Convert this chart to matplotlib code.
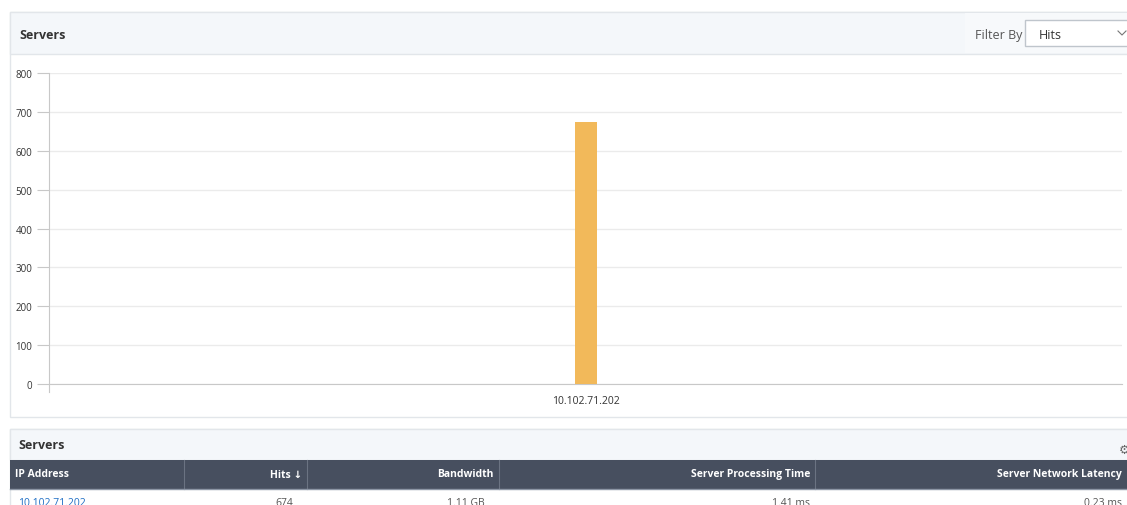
import matplotlib
matplotlib.use("Agg")
import matplotlib.pyplot as plt
from matplotlib.patches import Rectangle

plt.rcParams["font.family"] = ["Open Sans", "DejaVu Sans"]

# data
servers = ["10.102.71.202"]
hits = [674]
bandwidth = ["1.11 GB"]
processing_time = ["1.41 ms"]
network_latency = ["0.23 ms"]
y_ticks = [0, 100, 200, 300, 400, 500, 600, 700, 800]
columns = ["IP Address", "Hits \u2193", "Bandwidth", "Server Processing Time", "Server Network Latency"]

W, H = 1127, 506
fig = plt.figure(figsize=(W / 100, H / 100), dpi=100)
fig.patch.set_facecolor("white")

# pixel-space background layer for the dashboard panels
bg = fig.add_axes([0, 0, 1, 1])
bg.set_xlim(0, W)
bg.set_ylim(H, 0)
bg.axis("off")

border = "#e2e6ea"
head_bg = "#f4f7fa"

# chart card
bg.add_patch(Rectangle((10, 13), 1130, 405, facecolor="white", edgecolor=border, lw=1))
bg.add_patch(Rectangle((10, 13), 1130, 42, facecolor=head_bg, edgecolor=border, lw=1))
bg.add_patch(Rectangle((965, 14), 170, 40, facecolor="#f7f9fb", edgecolor="none"))
bg.text(19, 35, "Servers", fontsize=9, fontweight="bold", color="#333333", va="center")
bg.text(975, 35, "Filter By", fontsize=9, color="#555555", va="center")
bg.add_patch(Rectangle((1025, 21), 110, 26, facecolor="white", edgecolor="#bfc5cc", lw=1))
bg.text(1039, 35, "Hits", fontsize=9, color="#333333", va="center")
bg.plot([1118, 1122, 1126], [32, 36, 32], color="#777777", lw=0.8)

# table card
bg.add_patch(Rectangle((10, 430), 1130, 90, facecolor="white", edgecolor=border, lw=1))
bg.add_patch(Rectangle((10, 430), 1130, 31, facecolor=head_bg, edgecolor=border, lw=1))
bg.text(18, 446, "Servers", fontsize=9, fontweight="bold", color="#333333", va="center")
bg.text(1124, 450, "\u2699", fontsize=9, color="#666666", va="center", ha="center",
        family="DejaVu Sans")

col_edges = [10, 184, 307, 499, 815, 1127]
bg.add_patch(Rectangle((10, 461), 1120, 29, facecolor="#474f5f", edgecolor="none"))
for x in col_edges[1:-1]:
    bg.plot([x, x], [461, 490], color="#6b7382", lw=0.8)
bg.plot([10, 1127], [490, 490], color="#8d96a5", lw=1)
for i, name in enumerate(columns):
    if i == 0:
        bg.text(col_edges[0] + 5, 475, name, fontsize=7.5, fontweight="bold",
                color="white", va="center", ha="left")
    else:
        bg.text(col_edges[i + 1] - 5, 475, name, fontsize=7.5, fontweight="bold",
                color="white", va="center", ha="right")

row = [servers[0], str(hits[0]), bandwidth[0], processing_time[0], network_latency[0]]
for i, val in enumerate(row):
    if i == 0:
        bg.text(col_edges[0] + 8, 504, val, fontsize=7.5, color="#1f6fc5", va="center")
    elif i == 1:
        bg.text(293, 504, val, fontsize=7.5, color="#555555", va="center", ha="right")
    elif i == 2:
        bg.text(485, 504, val, fontsize=7.5, color="#555555", va="center", ha="right")
    else:
        bg.text(col_edges[i + 1] - 5, 504, val, fontsize=7.5, color="#555555",
                va="center", ha="right")

# bar chart
ax = fig.add_axes([49 / W, 1 - 385 / H, (1122 - 49) / W, (385 - 74) / H])
ax.set_facecolor("none")
ax.bar(servers, hits, width=22 / 1073, color="#f2b95a", zorder=3)
ax.set_xlim(-0.5, 0.5)
ax.set_ylim(0, 800)
ax.set_yticks(y_ticks)
ax.grid(axis="y", color="#ebebeb", lw=1, zorder=0)
for s in ["top", "right"]:
    ax.spines[s].set_visible(False)
ax.spines["left"].set_color("#c8c8c8")
ax.spines["bottom"].set_color("#c8c8c8")
ax.spines["left"].set_bounds(-20, 800)
ax.tick_params(axis="y", length=9, color="#c8c8c8", labelsize=7, labelcolor="#333333", pad=3)
ax.tick_params(axis="x", length=0, labelsize=7.5, labelcolor="#333333", pad=8)

fig.savefig("out.png", dpi=100)
